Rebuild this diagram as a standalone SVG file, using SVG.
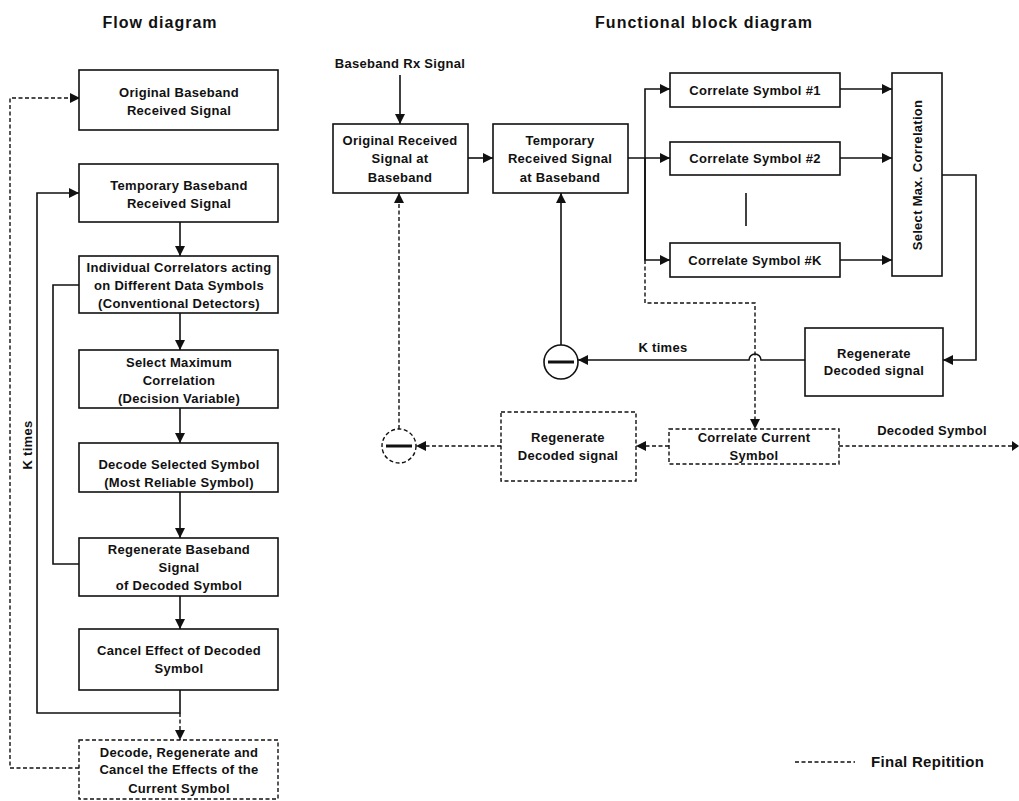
<svg xmlns="http://www.w3.org/2000/svg" width="1019" height="801" viewBox="0 0 1019 801">
  <defs>
    <marker id="arr" markerUnits="userSpaceOnUse" markerWidth="11" markerHeight="10" refX="10" refY="5" orient="auto">
      <path d="M0,0 L10,5 L0,10 Z" fill="#111"/>
    </marker>
  </defs>
  <style>
    text { font-family: "Liberation Sans", Arial, sans-serif; font-weight: bold; fill: #111; }
    .t { font-size: 13px; letter-spacing: 0.3px; text-anchor: middle; }
    .title { font-size: 16px; letter-spacing: 1px; text-anchor: middle; }
    .box { fill: #fff; stroke: #111; stroke-width: 1.6; }
    .dbox { fill: #fff; stroke: #111; stroke-width: 1.4; stroke-dasharray: 4 2.5; }
    .ln { fill: none; stroke: #111; stroke-width: 1.6; }
    .dl { fill: none; stroke: #111; stroke-width: 1.4; stroke-dasharray: 4 2.5; }
    .bar { stroke: #111; stroke-width: 3; }
  </style>
  <rect width="1019" height="801" fill="#fff"/>

  <!-- titles -->
  <text class="title" x="160" y="28">Flow diagram</text>
  <text class="title" x="704" y="28">Functional block diagram</text>

  <!-- connectors -->
  <g id="connectors">
    <!-- flow diagram -->
    <path class="ln" d="M180,222 V256" marker-end="url(#arr)"/>
    <path class="ln" d="M180,313 V350" marker-end="url(#arr)"/>
    <path class="ln" d="M180,408 V443" marker-end="url(#arr)"/>
    <path class="ln" d="M180,492 V538" marker-end="url(#arr)"/>
    <path class="ln" d="M180,596 V629" marker-end="url(#arr)"/>
    <path class="ln" d="M180,690 V713 H37 V193 H79" marker-end="url(#arr)"/>
    <path class="dl" d="M180,713 V740" marker-end="url(#arr)"/>
    <path class="ln" d="M79,285 H53 V564 H79"/>
    <path class="dl" d="M79,768 H10 V98 H80" marker-end="url(#arr)"/>

    <!-- block diagram: forward path -->
    <path class="ln" d="M400,75 V124" marker-end="url(#arr)"/>
    <path class="ln" d="M468,158 H493" marker-end="url(#arr)"/>
    <path class="ln" d="M628,158 H670" marker-end="url(#arr)"/>
    <path class="ln" d="M645,260 V89 H670" marker-end="url(#arr)"/>
    <path class="ln" d="M645,158 V260 H670" marker-end="url(#arr)"/>
    <path class="ln" d="M840,89 H892" marker-end="url(#arr)"/>
    <path class="ln" d="M840,158 H892" marker-end="url(#arr)"/>
    <path class="ln" d="M840,260 H892" marker-end="url(#arr)"/>
    <path class="ln" d="M746,193 V226"/>
    <path class="ln" d="M942,175 H976 V360 H943" marker-end="url(#arr)"/>
    <!-- K times feedback with hop over the dashed line -->
    <path class="ln" d="M805,360 H761 A6,6 0 0 0 749,360 H578" marker-end="url(#arr)"/>
    <path class="ln" d="M561,345 V193" marker-end="url(#arr)"/>

    <!-- block diagram: final repetition -->
    <path class="dl" d="M645,260 V303 H755 V429" marker-end="url(#arr)"/>
    <path class="dl" d="M839,446 H1012"/>
    <path d="M1012,441 L1019,446 L1012,451 Z" fill="#111"/>
    <path class="dl" d="M669,446 H636" marker-end="url(#arr)"/>
    <path class="dl" d="M501,446 H416" marker-end="url(#arr)"/>
    <path class="dl" d="M399,429 V193" marker-end="url(#arr)"/>

    <!-- legend -->
    <path class="dl" d="M795,762 H855"/>
  </g>

  <!-- flow diagram nodes -->
  <g id="f-original">
    <rect class="box" x="79" y="70" width="199" height="60"/>
    <text class="t" x="179" y="97">Original Baseband</text>
    <text class="t" x="179" y="115">Received Signal</text>
  </g>
  <g id="f-temporary">
    <rect class="box" x="79" y="164" width="199" height="58"/>
    <text class="t" x="179" y="190">Temporary Baseband</text>
    <text class="t" x="179" y="208">Received Signal</text>
  </g>
  <g id="f-correlators">
    <rect class="box" x="79" y="256" width="199" height="57"/>
    <text class="t" x="179" y="272">Individual Correlators acting</text>
    <text class="t" x="179" y="290">on Different Data Symbols</text>
    <text class="t" x="179" y="308">(Conventional Detectors)</text>
  </g>
  <g id="f-select">
    <rect class="box" x="79" y="350" width="199" height="58"/>
    <text class="t" x="179" y="367">Select Maximum</text>
    <text class="t" x="179" y="385">Correlation</text>
    <text class="t" x="179" y="403">(Decision Variable)</text>
  </g>
  <g id="f-decode">
    <rect class="box" x="79" y="443" width="199" height="49"/>
    <text class="t" x="179" y="469">Decode Selected Symbol</text>
    <text class="t" x="179" y="487">(Most Reliable Symbol)</text>
  </g>
  <g id="f-regenerate">
    <rect class="box" x="79" y="538" width="199" height="58"/>
    <text class="t" x="179" y="554">Regenerate Baseband</text>
    <text class="t" x="179" y="572">Signal</text>
    <text class="t" x="179" y="590">of Decoded Symbol</text>
  </g>
  <g id="f-cancel">
    <rect class="box" x="79" y="629" width="199" height="61"/>
    <text class="t" x="179" y="655">Cancel Effect of Decoded</text>
    <text class="t" x="179" y="673">Symbol</text>
  </g>
  <g id="f-final">
    <rect class="dbox" x="79" y="740" width="199" height="59"/>
    <text class="t" x="179" y="757">Decode, Regenerate and</text>
    <text class="t" x="179" y="774">Cancel the Effects of the</text>
    <text class="t" x="179" y="793">Current Symbol</text>
  </g>
  <text class="t" transform="translate(32,445) rotate(-90)">K  times</text>

  <!-- block diagram nodes -->
  <text class="t" x="400" y="68">Baseband Rx Signal</text>
  <g id="b-original">
    <rect class="box" x="333" y="124" width="135" height="69"/>
    <text class="t" x="400" y="145">Original Received</text>
    <text class="t" x="400" y="163">Signal at</text>
    <text class="t" x="400" y="182">Baseband</text>
  </g>
  <g id="b-temporary">
    <rect class="box" x="493" y="124" width="135" height="69"/>
    <text class="t" x="560" y="145">Temporary</text>
    <text class="t" x="560" y="163">Received Signal</text>
    <text class="t" x="560" y="182">at Baseband</text>
  </g>
  <g id="b-corr1">
    <rect class="box" x="670" y="73" width="170" height="34"/>
    <text class="t" x="755" y="95">Correlate Symbol #1</text>
  </g>
  <g id="b-corr2">
    <rect class="box" x="670" y="142" width="170" height="33"/>
    <text class="t" x="755" y="163">Correlate Symbol #2</text>
  </g>
  <g id="b-corrK">
    <rect class="box" x="670" y="243" width="170" height="34"/>
    <text class="t" x="755" y="265">Correlate Symbol #K</text>
  </g>
  <g id="b-selectmax">
    <rect class="box" x="892" y="73" width="50" height="203"/>
    <text class="t" transform="translate(922,175) rotate(-90)">Select Max. Correlation</text>
  </g>
  <g id="b-regen">
    <rect class="box" x="805" y="328" width="138" height="68"/>
    <text class="t" x="874" y="358">Regenerate</text>
    <text class="t" x="874" y="375">Decoded signal</text>
  </g>
  <text class="t" x="663" y="352">K  times</text>
  <g id="b-subtract">
    <circle cx="561" cy="362" r="17" fill="#fff" stroke="#111" stroke-width="1.6"/>
    <line class="bar" x1="548" y1="362" x2="574" y2="362"/>
  </g>
  <g id="b-correlate-current">
    <rect class="dbox" x="669" y="429" width="170" height="35"/>
    <text class="t" x="754" y="442">Correlate Current</text>
    <text class="t" x="754" y="460">Symbol</text>
  </g>
  <text class="t" x="932" y="435">Decoded Symbol</text>
  <g id="b-regen-final">
    <rect class="dbox" x="501" y="412" width="135" height="69"/>
    <text class="t" x="568" y="442">Regenerate</text>
    <text class="t" x="568" y="460">Decoded signal</text>
  </g>
  <g id="b-subtract-final">
    <circle cx="399" cy="446" r="17" fill="#fff" stroke="#111" stroke-width="1.4" stroke-dasharray="4 2.5"/>
    <line class="bar" x1="386" y1="446" x2="412" y2="446"/>
  </g>

  <!-- legend -->
  <text x="871" y="767" style="font-size:15px;letter-spacing:0.3px">Final Repitition</text>
</svg>
